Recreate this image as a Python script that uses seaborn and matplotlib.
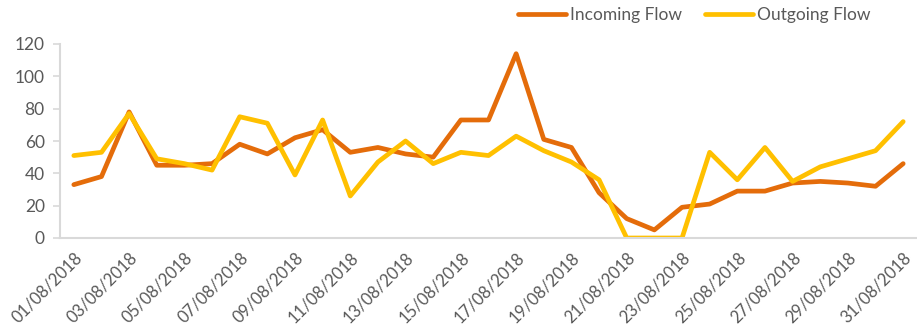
import matplotlib
matplotlib.use("Agg")
import matplotlib.pyplot as plt
import seaborn as sns
import pandas as pd
import numpy as np
from matplotlib.ticker import FixedLocator

dates = [f"{d:02d}/08/2018" for d in range(1, 32)]
incoming = [33, 38, 78, 45, 45, 46, 58, 52, 62, 67, 53, 56, 52, 50, 73, 73,
            114, 61, 56, 28, 12, 5, 19, 21, 29, 29, 34, 35, 34, 32, 46]
outgoing = [51, 53, 77, 49, 46, 42, 75, 71, 39, 73, 26, 47, 60, 46, 53, 51,
            63, 54, 47, 36, 0, 0, 0, 53, 36, 56, 35, 44, 49, 54, 72]
series_names = ["Incoming Flow", "Outgoing Flow"]
colors = ["#E46C0A", "#FFC000"]
y_ticks = [0, 20, 40, 60, 80, 100, 120]

sns.set_theme(style="white")
plt.rcParams["font.family"] = ["Lato", "DejaVu Sans"]

df = pd.DataFrame({
    "day": list(range(len(dates))) * 2,
    "value": incoming + outgoing,
    "series": [series_names[0]] * len(dates) + [series_names[1]] * len(dates),
})

fig = plt.figure(figsize=(9.17, 3.27), dpi=100)
ax = fig.add_axes([60 / 917, 1 - 238 / 327, 857 / 917, 194 / 327])

sns.lineplot(data=df, x="day", y="value", hue="series", palette=colors,
             linewidth=3.4, ax=ax, legend=False, solid_capstyle="round",
             solid_joinstyle="round")

text_color = "#595959"
grid_color = "#D9D9D9"

ax.set_xlim(-0.5, len(dates) - 0.5)
ax.set_ylim(0, 120)
ax.set_yticks(y_ticks)
ax.set_yticklabels([str(v) for v in y_ticks], color=text_color, fontsize=12.5)

ax.set_xticks(np.arange(0, len(dates), 2))
ax.set_xticklabels(dates[::2], rotation=45, ha="right", rotation_mode="anchor",
                   color=text_color, fontsize=12)
ax.xaxis.set_minor_locator(FixedLocator(np.arange(-0.5, len(dates), 1)))
ax.tick_params(axis="x", which="major", length=0, pad=8)
ax.tick_params(axis="x", which="minor", length=5, color=grid_color, width=1.2)
ax.tick_params(axis="y", which="major", length=5, color=grid_color, width=1.2,
               pad=6, left=True)

for side in ["top", "right"]:
    ax.spines[side].set_visible(False)
for side in ["left", "bottom"]:
    ax.spines[side].set_color(grid_color)
    ax.spines[side].set_linewidth(1.5)
ax.set_xlabel("")
ax.set_ylabel("")

handles = [plt.Line2D([], [], color=c, linewidth=3.4, solid_capstyle="round")
           for c in colors]
fig.legend(handles, series_names, loc="center", bbox_to_anchor=(694 / 917, 1 - 15 / 327),
           ncol=2, frameon=False, handlelength=2.8, handletextpad=0.2,
           columnspacing=1.3, labelcolor=text_color, fontsize=12.5)

fig.savefig("out.png", dpi=100)
